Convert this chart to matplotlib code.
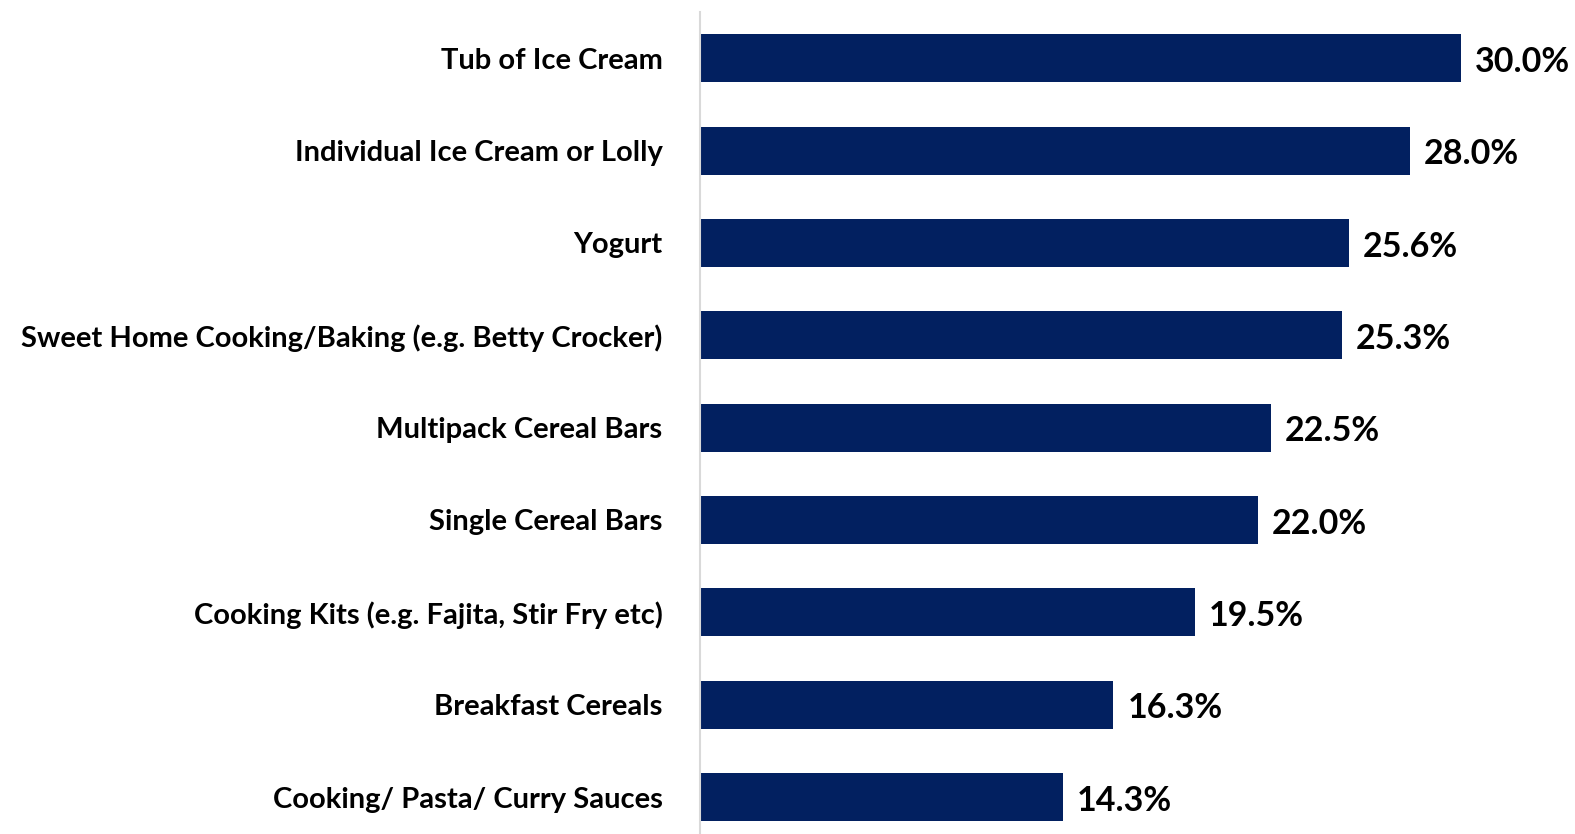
import matplotlib.pyplot as plt

# categories, top to bottom
categories = [
    'Tub of Ice Cream',
    'Individual Ice Cream or Lolly',
    'Yogurt',
    'Sweet Home Cooking/Baking (e.g. Betty Crocker)',
    'Multipack Cereal Bars',
    'Single Cereal Bars',
    'Cooking Kits (e.g. Fajita, Stir Fry etc)',
    'Breakfast Cereals',
    'Cooking/ Pasta/ Curry Sauces',
]
values = [30.0, 28.0, 25.6, 25.3, 22.5, 22.0, 19.5, 16.3, 14.3]

plt.rcParams['font.family'] = ['Lato', 'DejaVu Sans']

fig = plt.figure(figsize=(15.75, 8.34), dpi=100)
ax = fig.add_axes([700 / 1575, 0, 875 / 1575, 822 / 834])

pos = list(range(len(categories)))
ax.barh(pos, values, height=0.52, color='#022060')

# value labels at the end of each bar
for p, v in zip(pos, values):
    ax.text(v + 0.55, p + 0.04, '%.1f%%' % v, va='center', ha='left',
            fontsize=24.5, fontweight='bold', color='black')

ax.set_yticks(pos)
ax.set_yticklabels(categories, fontsize=21, fontweight='bold')
ax.tick_params(axis='y', length=0, pad=27)
ax.set_xticks([])
ax.set_xlim(0, 34.5)
ax.set_ylim(8.4, -0.5)

for s in ['top', 'right', 'bottom']:
    ax.spines[s].set_visible(False)
ax.spines['left'].set_color('#d9d9d9')
ax.spines['left'].set_linewidth(1.5)

plt.savefig('out.png', dpi=100)
